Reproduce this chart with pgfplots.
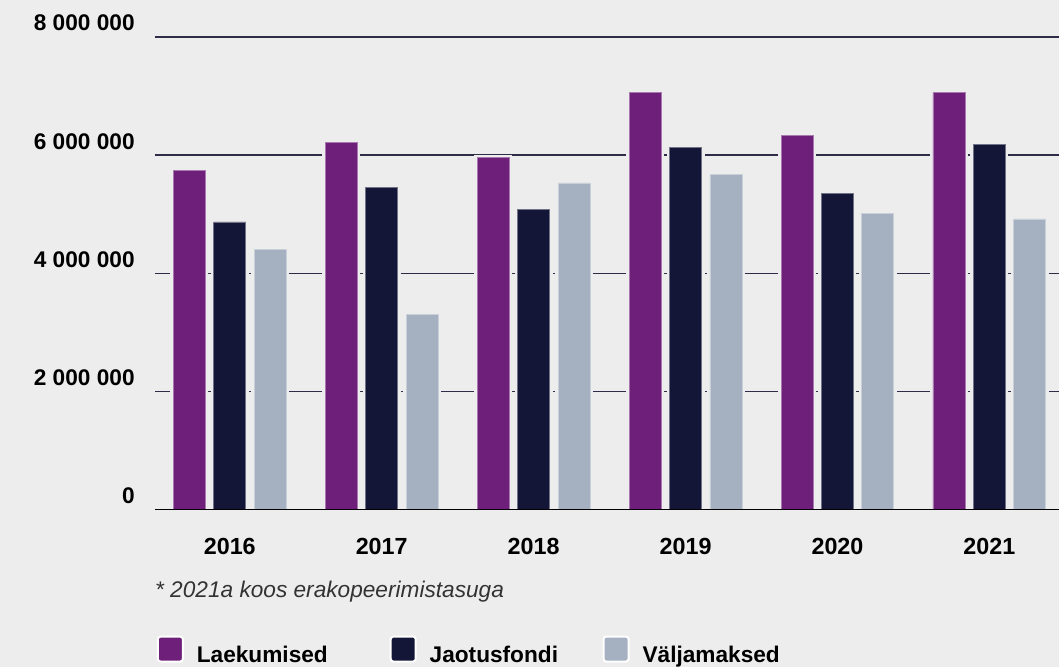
\documentclass[border=0pt]{standalone}
\usepackage{pgfplots}
\pgfplotsset{compat=1.18}
\usepackage{fontspec}
\setmainfont{Liberation Sans}
\definecolor{bg}{HTML}{EDEDED}
\definecolor{cpurple}{HTML}{6E1F7A}
\definecolor{cnavy}{HTML}{141638}
\definecolor{cgray}{HTML}{A5B1C1}
\definecolor{gridc}{HTML}{2D2D48}
\begin{document}
\begin{tikzpicture}
\fill[bg] (0,0) rectangle (795pt,500.25pt);
\begin{axis}[
  name=ax,
  at={(116.25pt,117.75pt)}, anchor=south west,
  scale only axis, width=678.75pt, height=354.75pt,
  xmin=-0.493, xmax=5.46, ymin=0, ymax=8000000,
  ybar, bar width=0.2105,
  axis line style={draw=none},
  tick style={draw=none},
  ymajorgrids,
  major grid style={draw=gridc, line width=1.1pt},
  ytick={0,2000000,4000000,6000000,8000000},
  yticklabels={0,2 000 000,4 000 000,6 000 000,8 000 000},
  scaled y ticks=false,
  yticklabel style={anchor=base east, inner sep=0pt, xshift=-15pt, yshift=4.5pt, font=\bfseries\fontsize{17}{20}\selectfont, text=black},
  xtick={0,1,2,3,4,5},
  xticklabels={2016,2017,2018,2019,2020,2021},
  xticklabel style={anchor=base, inner sep=0pt, yshift=-29.25pt, font=\bfseries\fontsize{17.5}{20}\selectfont, text=black},
  legend columns=3,
  legend style={at={(axis description cs:0,0)}, anchor=north west, xshift=0pt, yshift=-93pt,
    draw=none, fill=none, inner sep=0pt, outer sep=0pt,
    font=\bfseries\fontsize{17}{20}\selectfont,
    nodes={inner sep=0pt},
    /tikz/every odd column/.append style={column sep=8.25pt},
    /tikz/every even column/.append style={column sep=0pt}},
  legend image code/.code={\draw[#1, draw=white, line width=1.5pt, rounded corners=2pt] (0pt,-4.5pt) rectangle (18.75pt,14.25pt);},
  every axis plot/.append style={preaction={draw=bg, line width=4.5pt}},
]
\addplot[fill=cpurple, draw=cpurple!60!white, line width=0.6pt, bar shift=-0.266] coordinates {(0,5740000) (1,6210000) (2,5960000) (3,7060000) (4,6330000) (5,7060000)};
\addplot[fill=cnavy, draw=cnavy!60!white, line width=0.6pt, bar shift=0] coordinates {(0,4870000) (1,5460000) (2,5080000) (3,6130000) (4,5350000) (5,6180000)};
\addplot[fill=cgray, draw=cgray!60!white, line width=0.6pt, bar shift=0.266] coordinates {(0,4400000) (1,3300000) (2,5530000) (3,5670000) (4,5010000) (5,4920000)};
\addlegendentry{\makebox[143.25pt][l]{Laekumised}}
\addlegendentry{\makebox[128.25pt][l]{Jaotusfondi}}
\addlegendentry{Väljamaksed}
\draw[black, line width=1.6pt] (rel axis cs:0,0) -- (rel axis cs:1,0);
\end{axis}
\node[anchor=base west, inner sep=0pt, text=black!80, font=\itshape\fontsize{17}{20}\selectfont] at ([yshift=-66pt]ax.south west) {* 2021a koos erakopeerimistasuga};
\end{tikzpicture}
\end{document}
